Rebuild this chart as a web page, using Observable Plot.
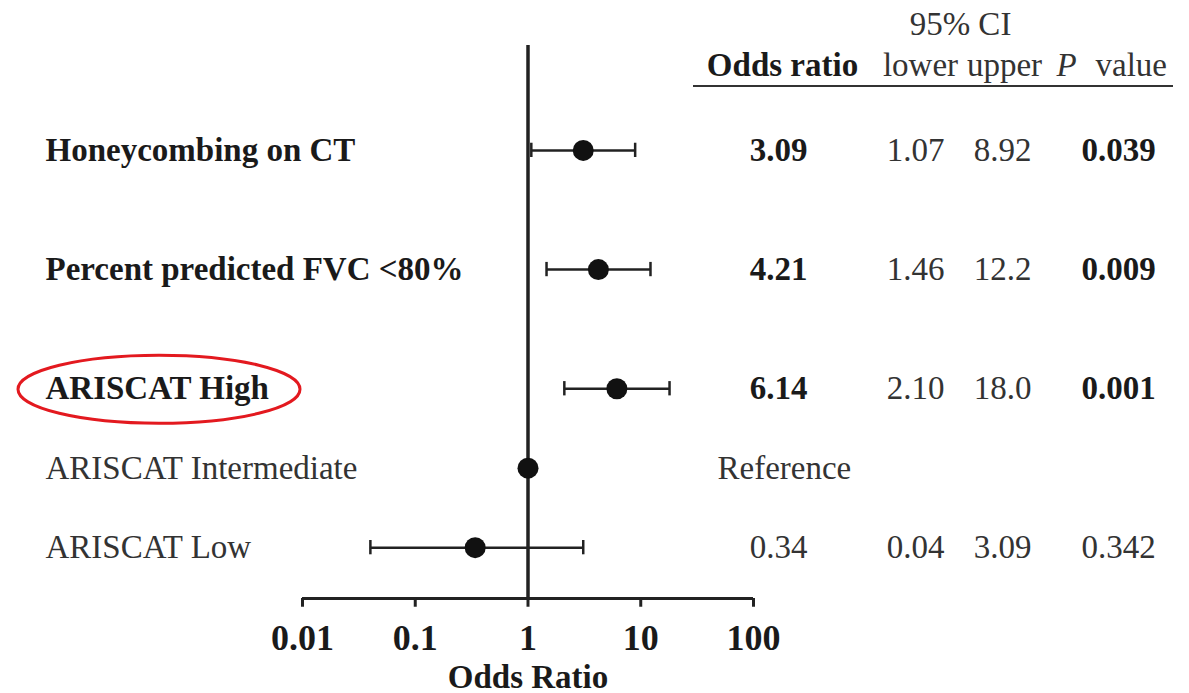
<!DOCTYPE html>
<html>
<head>
<meta charset="utf-8">
<script src="https://cdn.jsdelivr.net/npm/d3@7"></script>
<script src="https://cdn.jsdelivr.net/npm/@observablehq/plot@0.6"></script>
<style>
  html, body { margin: 0; padding: 0; background: #fff; }
  #chart svg { display: block; }
</style>
</head>
<body>
<div id="chart"></div>
<script>
// ---- data ----
const labels = ["Honeycombing on CT", "Percent predicted FVC <80%", "ARISCAT High", "ARISCAT Intermediate", "ARISCAT Low"];
const oddsRatio = [3.09, 4.21, 6.14, 1, 0.34];
const ciLower = [1.07, 1.46, 2.10, null, 0.04];
const ciUpper = [8.92, 12.2, 18.0, null, 3.09];
const orText = ["3.09", "4.21", "6.14", "Reference", "0.34"];
const lowerText = ["1.07", "1.46", "2.10", "", "0.04"];
const upperText = ["8.92", "12.2", "18.0", "", "3.09"];
const pText = ["0.039", "0.009", "0.001", "", "0.342"];
const significant = [true, true, true, false, false];
const xTicks = [0.01, 0.1, 1, 10, 100];
const xTickLabels = ["0.01", "0.1", "1", "10", "100"];
const highlighted = "ARISCAT High";

// row layout: significant rows get extra space above them
let acc = 0;
const rows = labels.map((label, i) => {
  if (i > 0) acc += significant[i] ? 1.5 : 1;
  return {
    label, pos: acc, or: oddsRatio[i], lo: ciLower[i], hi: ciUpper[i],
    orT: orText[i], loT: lowerText[i], hiT: upperText[i], pT: pText[i], sig: significant[i]
  };
});
const ciRows = rows.filter(d => d.lo != null);
const tickRows = xTicks.map((v, i) => ({ v, t: xTickLabels[i] }));
const yTop = -1.32, yBottom = acc + 0.64;

const FONT = "'Liberation Serif', 'Times New Roman', serif";
const INK = "#222";
const BOLD = "#1a1a1a";
const REG = "#333";
const FS = 33;

const txt = (o) => ({ fontSize: FS, lineAnchor: "middle", textAnchor: "middle", ...o });

const plot = Plot.plot({
  width: 1189,
  height: 693,
  marginLeft: 302,
  marginRight: 436,
  marginTop: 45,
  marginBottom: 95,
  style: { fontFamily: FONT, background: "#fff", color: INK, overflow: "visible" },
  x: { type: "log", domain: [0.01, 100], axis: null },
  y: { domain: [yTop, yBottom], reverse: true, axis: null },
  marks: [
    // x axis: line, ticks, labels, title
    Plot.ruleY([yBottom], { x1: 0.01, x2: 100, stroke: INK, strokeWidth: 3 }),
    Plot.ruleX(tickRows, { x: "v", y: yBottom, dy: 0, insetTop: 0, stroke: INK, strokeWidth: 3, y1: yBottom, y2: yBottom + 0.11 }),
    Plot.text(tickRows, { x: "v", text: "t", frameAnchor: "bottom", lineAnchor: "middle", dy: 40, fontSize: 36, fontWeight: "bold", fill: BOLD }),
    Plot.text(["Odds Ratio"], txt({ frameAnchor: "bottom", dy: 79, fontWeight: "bold", fill: BOLD })),
    // reference line at OR = 1
    Plot.ruleX([1], { y1: yTop, y2: yBottom, stroke: INK, strokeWidth: 3.5 }),
    // CI bars and caps
    Plot.ruleY(ciRows, { y: "pos", x1: "lo", x2: "hi", stroke: INK, strokeWidth: 2.5 }),
    Plot.ruleX(ciRows, { x: "lo", y1: d => d.pos - 0.09, y2: d => d.pos + 0.09, stroke: INK, strokeWidth: 2.5 }),
    Plot.ruleX(ciRows, { x: "hi", y1: d => d.pos - 0.09, y2: d => d.pos + 0.09, stroke: INK, strokeWidth: 2.5 }),
    Plot.dot(rows, { x: "or", y: "pos", r: 10.5, fill: "#111", stroke: "none" }),
    // row labels
    Plot.text(rows, txt({ filter: d => d.sig, y: "pos", text: "label", frameAnchor: "left", dx: -257, textAnchor: "start", fontWeight: "bold", fill: BOLD })),
    Plot.text(rows, txt({ filter: d => !d.sig, y: "pos", text: "label", frameAnchor: "left", dx: -257, textAnchor: "start", fill: REG })),
    // table: odds ratio
    Plot.text(rows, txt({ filter: d => d.sig, y: "pos", text: "orT", frameAnchor: "right", dx: 25, fontWeight: "bold", fill: BOLD })),
    Plot.text(rows, txt({ filter: d => !d.sig && d.lo != null, y: "pos", text: "orT", frameAnchor: "right", dx: 25, fill: REG })),
    Plot.text(rows, txt({ filter: d => d.lo == null, y: "pos", text: "orT", frameAnchor: "right", dx: -36, textAnchor: "start", fill: REG })),
    // lower / upper
    Plot.text(rows, txt({ y: "pos", text: "loT", frameAnchor: "right", dx: 162, fill: REG })),
    Plot.text(rows, txt({ y: "pos", text: "hiT", frameAnchor: "right", dx: 249, fill: REG })),
    // P value
    Plot.text(rows, txt({ filter: d => d.sig, y: "pos", text: "pT", frameAnchor: "right", dx: 365, fontWeight: "bold", fill: BOLD })),
    Plot.text(rows, txt({ filter: d => !d.sig, y: "pos", text: "pT", frameAnchor: "right", dx: 365, fill: REG })),
    // header
    Plot.text(["95% CI"], txt({ frameAnchor: "top-right", dx: 207, dy: -21, fill: REG })),
    Plot.text(["Odds ratio"], txt({ frameAnchor: "top-right", dx: 29, dy: 20, fontWeight: "bold", fill: BOLD })),
    Plot.text(["lower"], txt({ frameAnchor: "top-right", dx: 167, dy: 20, fill: REG })),
    Plot.text(["upper"], txt({ frameAnchor: "top-right", dx: 251, dy: 20, fill: REG })),
    Plot.text(["P"], txt({ frameAnchor: "top-right", dx: 303, dy: 20, textAnchor: "start", fontStyle: "italic", fill: REG })),
    Plot.text(["value"], txt({ frameAnchor: "top-right", dx: 342, dy: 20, textAnchor: "start", fill: REG }))
  ]
});

document.getElementById("chart").appendChild(plot);

const svg = d3.select(plot);
// header underline
svg.append("line")
  .attr("x1", 693).attr("x2", 1173).attr("y1", 86).attr("y2", 86)
  .attr("stroke", "#333").attr("stroke-width", 2);

// highlight ellipse around the ARISCAT High label
const ys = plot.scale("y");
const hi = rows.find(d => d.label === highlighted);
svg.append("ellipse")
  .attr("cx", 159).attr("cy", ys.apply(hi.pos) + 1)
  .attr("rx", 141).attr("ry", 34)
  .attr("fill", "none").attr("stroke", "#e3191f").attr("stroke-width", 3);
</script>
</body>
</html>
